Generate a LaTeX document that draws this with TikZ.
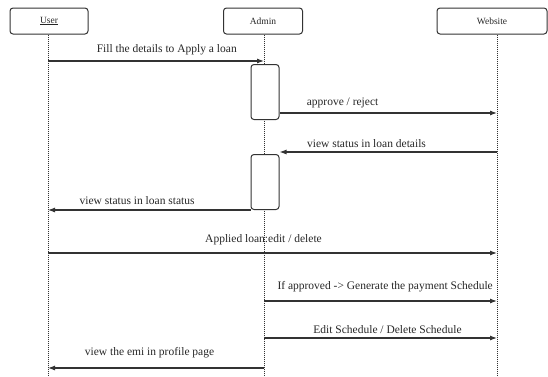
\documentclass[tikz,border=0pt]{standalone}
\usepackage{fontspec}
\setmainfont{Liberation Serif}
\usetikzlibrary{arrows.meta}
\tikzset{
    actor/.style = {draw, rounded corners=3pt, line width=1pt, minimum height=26pt, inner sep=0pt},
    lifeline/.style = {draw, densely dotted, line width=1pt},
    act/.style = {draw, fill=white, rounded corners=3pt, line width=1pt, minimum width=28pt, inner sep=0pt},
    msg/.style = {draw, line width=1.1pt, -{Latex[length=7pt, width=5pt]}},
    lbl/.style = {font=\fontsize{11.5}{13}\selectfont, inner sep=1pt},
}

\begin{document}
\begin{tikzpicture}[x=1pt, y=-1pt, color=black!80, text=black!85]
    \useasboundingbox (0,0) rectangle (548,376);

    \node[actor, minimum width=78pt] (user) at (49, 21) {\fontsize{9.5}{10}\selectfont\underline{User}};
    \node[actor, minimum width=79pt] (admin) at (263, 21) {\fontsize{9.5}{10}\selectfont Admin};
    \node[actor, minimum width=110pt] (web) at (492, 21) {\fontsize{9.5}{10}\selectfont Website};

    \coordinate (user end) at (48, 376);
    \coordinate (admin end) at (264, 376);
    \coordinate (web end) at (497, 376);

    \draw[lifeline] (user.south -| user end) -- (user end);
    \draw[lifeline] (admin.south -| admin end) -- (admin end);
    \draw[lifeline] (web.south -| web end) -- (web end);

    \node[act, minimum height=55pt] (act1) at (265, 92) {};
    \node[act, minimum height=55pt] (act2) at (265, 182) {};

    % message heights
    \coordinate (m1) at (0, 61);
    \coordinate (m2) at (0, 113);
    \coordinate (m3) at (0, 152);
    \coordinate (m4) at (0, 210);
    \coordinate (m5) at (0, 253);
    \coordinate (m6) at (0, 301);
    \coordinate (m7) at (0, 338);
    \coordinate (m8) at (0, 368);

    \draw[msg] (user end |- m1) -- node[lbl, above=4pt, pos=0.55] {Fill the details to Apply a loan} (admin end |- m1);
    \draw[msg] (act1.east |- m2) -- node[lbl, above=4pt, pos=0.29] {approve / reject} (web end |- m2);
    \draw[msg] (web end |- m3) -- node[lbl, above=3pt, pos=0.6] {view status in loan details} (act2.east |- m3);
    \draw[msg] (act2.west |- m4) -- node[lbl, above=4pt, pos=0.56] {view status in loan status} (user end |- m4);
    \draw[msg] (user end |- m5) -- node[lbl, above=7pt, pos=0.48] {Applied loan:edit / delete} (web end |- m5);
    \draw[msg] (admin end |- m6) -- node[lbl, above=7pt, pos=0.52] {If approved -> Generate the payment Schedule} (web end |- m6);
    \draw[msg] (admin end |- m7) -- node[lbl, above=3pt, pos=0.53] {Edit Schedule / Delete Schedule} (web end |- m7);
    \draw[msg] (admin end |- m8) -- node[lbl, above=8pt, pos=0.53] {view the emi in profile page} (user end |- m8);
\end{tikzpicture}
\end{document}
